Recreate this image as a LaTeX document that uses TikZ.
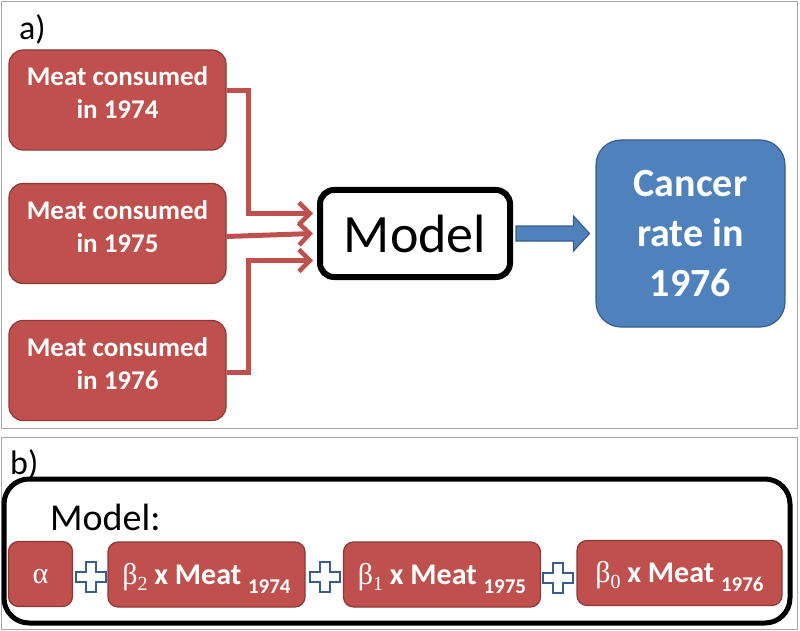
\documentclass[tikz,border=0pt]{standalone}
\usepackage{fontspec}
\setmainfont{Carlito}
\newfontfamily\grk{Liberation Serif}
\usetikzlibrary{arrows.meta,calc}
\definecolor{rfill}{HTML}{C0504D}
\definecolor{rdraw}{HTML}{8C3836}
\definecolor{bfill}{HTML}{4F81BD}
\definecolor{bdraw}{HTML}{385D8A}
\definecolor{panel}{HTML}{A6A6A6}
\tikzset{
  redbox/.style={draw=rdraw, fill=rfill, line width=1.2pt, rounded corners=14pt, text=white, inner sep=0pt, align=center},
  meatbox/.style={redbox, minimum width=217pt, minimum height=100pt, font=\fontsize{27}{33}\selectfont\bfseries},
  termbox/.style={redbox, rounded corners=10pt, minimum height=65pt, text height=32pt, text depth=13pt, font=\fontsize{30}{30}\selectfont\bfseries},
  redline/.style={draw=rfill, line width=5pt, -{Straight Barb[length=11pt,width=22pt,line width=4.5pt]}},
  panelbox/.style={draw=panel, line width=1pt},
  plussign/.pic={\draw[bdraw, line width=1.5pt, fill=white] (-5,-15) -- (5,-15) -- (5,-5) -- (15,-5) -- (15,5) -- (5,5) -- (5,15) -- (-5,15) -- (-5,5) -- (-15,5) -- (-15,-5) -- (-5,-5) -- cycle;}
}
\newcommand{\subs}[1]{\raisebox{-9pt}{\fontsize{21}{21}\selectfont\bfseries #1}}
\newcommand{\bet}[1]{{\grk\mdseries β\raisebox{-6pt}{\fontsize{20}{20}\selectfont #1}}}
\begin{document}
\begin{tikzpicture}[x=1pt,y=-1pt]
\useasboundingbox (0,0) rectangle (800,631);
% panels
\draw[panelbox] (1.5,1.5) rectangle (797.5,428);
\draw[panelbox] (1.5,437) rectangle (797.5,629.5);
\node[anchor=base west, font=\fontsize{34}{34}\selectfont, inner sep=0pt] (la) at (19,40) {a)};
\node[anchor=base west, font=\fontsize{34}{34}\selectfont, inner sep=0pt] (lb) at (10,474) {b)};
% panel a
\node[meatbox] (m1) at (117.5,100) {Meat consumed\\in 1974\rule[-14pt]{0pt}{0pt}};
\node[meatbox] (m2) at (117.5,233.5) {Meat consumed\\in 1975\rule[-14pt]{0pt}{0pt}};
\node[meatbox] (m3) at (117.5,370.5) {Meat consumed\\in 1976\rule[-14pt]{0pt}{0pt}};
\node[draw=black, line width=6pt, rounded corners=14pt, minimum width=190pt, minimum height=87pt, inner sep=0pt, font=\fontsize{54}{54}\selectfont] (model) at (415,233.5) {Model};
\node[draw=bdraw, fill=bfill, line width=1.2pt, rounded corners=25pt, minimum width=189pt, minimum height=187pt, inner sep=0pt, align=center, text=white, font=\fontsize{40}{50}\selectfont\bfseries] (cancer) at (690.5,233.5) {Cancer\\rate in\\1976};
% connectors
\draw[redline] ($(m1.east)+(0,-9)$) -- ++(22,0) |- ($(model.west)+(-4,-20)$);
\draw[redline] ($(m2.east)+(0,3)$) -- ($(model.west)+(-4,0)$);
\draw[redline] ($(m3.east)+(0,2)$) -- ++(22,0) |- ($(model.west)+(-4,27)$);
\draw[draw=bdraw, fill=bfill, line width=1.2pt] ($(model.east)+(3,-7.5)$) -- ++(57.5,0) -- ++(0,-10) -- ($(cancer.west)+(-6,0)$) -- ($(model.east)+(60.5,17.5)$) -- ++(0,-10) -- ($(model.east)+(3,7.5)$) -- cycle;
% panel b
\draw[black, line width=5pt, rounded corners=25pt] (4,479) rectangle (790,623);
\node[anchor=base west, font=\fontsize{38}{38}\selectfont, inner sep=0pt] (mlabel) at (50,530) {Model:};
\node[termbox, minimum width=64pt, font=\fontsize{30}{30}\selectfont] (ta) at (40.5,574) {\grk α};
\node[termbox, minimum width=197pt] (t2) at (206.5,574.5) {\bet{2} x Meat \subs{1974}};
\node[termbox, minimum width=197pt] (t1) at (442,574.5) {\bet{1} x Meat \subs{1975}};
\node[termbox, minimum width=205pt] (t0) at (679.5,573) {\bet{0} x Meat \subs{1976}};
\pic at (91,577) {plussign};
\pic at (325,577) {plussign};
\pic at (558,578) {plussign};
\end{tikzpicture}
\end{document}
